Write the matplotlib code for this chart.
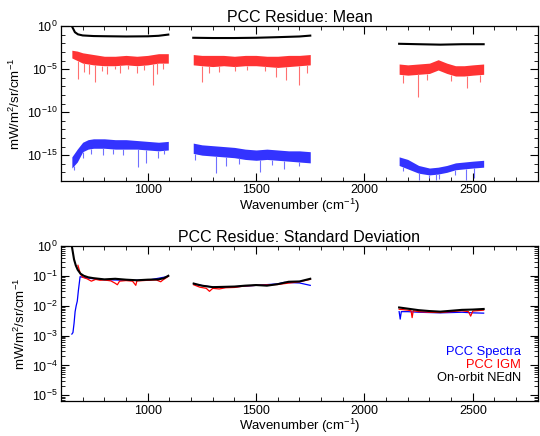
import numpy as np
import matplotlib
matplotlib.use("Agg")
import matplotlib.pyplot as plt

plt.rcParams['font.family'] = ['Liberation Sans', 'DejaVu Sans']
plt.rcParams['mathtext.fontset'] = 'custom'
plt.rcParams['mathtext.rm'] = 'Liberation Sans'
plt.rcParams['mathtext.it'] = 'Liberation Sans:italic'
plt.rcParams['mathtext.default'] = 'regular'

# ---- PCC residue mean (log10 values) ----
nedn_mean_x = [[645, 650, 664, 678, 700, 750, 800, 900, 1000, 1050, 1095],
               [1210, 1300, 1400, 1500, 1600, 1700, 1750],
               [2160, 2250, 2350, 2450, 2550]]
nedn_mean = [[0.3, 0.0, -0.7, -0.95, -1.08, -1.15, -1.17, -1.2, -1.18, -1.12, -0.98],
             [-1.35, -1.38, -1.38, -1.35, -1.28, -1.2, -1.1],
             [-2.05, -2.1, -2.15, -2.1, -2.1]]

band_x = [[650, 675, 700, 725, 750, 800, 850, 900, 950, 1000, 1050, 1095],
          [1210, 1250, 1300, 1350, 1400, 1450, 1500, 1550, 1600, 1650, 1700, 1750],
          [2160, 2200, 2250, 2300, 2340, 2380, 2420, 2460, 2500, 2550]]
igm_mean_hi = [[-2.8, -2.9, -3.1, -3.2, -3.3, -3.5, -3.5, -3.4, -3.5, -3.4, -3.2, -3.2],
               [-3.3, -3.4, -3.4, -3.4, -3.5, -3.4, -3.4, -3.5, -3.5, -3.4, -3.4, -3.3],
               [-4.4, -4.5, -4.4, -4.3, -3.9, -4.3, -4.6, -4.6, -4.5, -4.4]]
igm_mean_lo = [[-3.7, -4.0, -4.3, -4.4, -4.5, -4.6, -4.6, -4.5, -4.6, -4.5, -4.3, -4.3],
               [-4.5, -4.6, -4.7, -4.6, -4.7, -4.6, -4.6, -4.7, -4.8, -4.7, -4.6, -4.5],
               [-5.6, -5.7, -5.6, -5.5, -5.1, -5.5, -5.8, -5.8, -5.7, -5.6]]
spec_mean_hi = [[-15.2, -14.3, -13.5, -13.2, -13.1, -13.1, -13.2, -13.2, -13.3, -13.4, -13.5, -13.4],
                [-13.6, -13.8, -13.9, -14.0, -14.1, -14.3, -14.4, -14.3, -14.4, -14.5, -14.5, -14.6],
                [-15.2, -15.5, -16.2, -16.5, -16.4, -16.2, -15.9, -15.8, -15.7, -15.6]]
spec_mean_lo = [[-16.5, -15.8, -14.6, -14.3, -14.2, -14.2, -14.3, -14.3, -14.3, -14.4, -14.5, -14.4],
                [-14.8, -15.0, -15.1, -15.2, -15.3, -15.5, -15.6, -15.5, -15.6, -15.7, -15.8, -15.9],
                [-16.2, -16.6, -17.1, -17.3, -17.2, -17.0, -16.7, -16.6, -16.5, -16.4]]

igm_spike_x = [680, 705, 730, 757, 790, 812, 850, 870, 910, 950, 985, 1025, 1045, 1070,
               1249, 1285, 1327, 1405, 1460, 1543, 1590, 1636, 1696, 1737,
               2178, 2248, 2290, 2400, 2475, 2535]
igm_spike = [-6.2, -5.3, -5.6, -6.5, -5.2, -5.6, -5.0, -5.4, -5.0, -5.5, -5.1, -6.9, -5.6, -5.0,
             -6.5, -5.5, -5.3, -5.2, -5.1, -5.2, -5.9, -6.3, -6.8, -5.4,
             -6.6, -8.2, -6.3, -6.4, -7.2, -6.5]
spec_spike_x = [660, 700, 740, 793, 840, 885, 953, 990, 1046, 1074,
                1220, 1313, 1359, 1420, 1520, 1572, 1627, 1700,
                2180, 2250, 2300, 2330, 2345, 2420, 2470, 2505]
spec_spike = [-16.7, -15.3, -14.9, -15.0, -14.9, -15.0, -16.4, -15.9, -15.3, -14.9,
              -15.6, -17.1, -16.3, -16.0, -17.0, -16.2, -16.6, -16.3,
              -16.8, -17.9, -17.6, -17.9, -17.8, -17.3, -17.9, -17.6]

# ---- PCC residue standard deviation ----
nedn_std_x = [[645, 652, 660, 668, 677, 690, 705, 725, 750, 800, 850, 900, 950, 1000, 1050, 1075, 1095],
              [1212, 1250, 1300, 1350, 1400, 1450, 1500, 1550, 1600, 1650, 1700, 1750],
              [2160, 2200, 2250, 2300, 2350, 2400, 2450, 2500, 2550]]
nedn_std = [[0.2, -0.1, -0.45, -0.65, -0.8, -0.93, -1.0, -1.05, -1.08, -1.12, -1.1, -1.13, -1.15, -1.13, -1.12, -1.08, -1.0],
            [-1.26, -1.33, -1.38, -1.37, -1.36, -1.33, -1.31, -1.33, -1.28, -1.2, -1.19, -1.1],
            [-2.06, -2.1, -2.15, -2.18, -2.2, -2.17, -2.14, -2.13, -2.11]]
igm_std_x = [[678, 682, 690, 700, 720, 740, 760, 780, 800, 830, 850, 860, 870, 900, 930, 945, 950, 980, 1000, 1040, 1060, 1070, 1095],
             [1212, 1240, 1270, 1285, 1300, 1330, 1360, 1400, 1450, 1500, 1600, 1700, 1750],
             [2160, 2200, 2215, 2220, 2225, 2250, 2300, 2350, 2400, 2450, 2480, 2490, 2500, 2550]]
igm_std = [[-0.65, -0.75, -0.95, -1.05, -1.1, -1.18, -1.12, -1.15, -1.14, -1.17, -1.25, -1.3, -1.18, -1.16, -1.18, -1.32, -1.17, -1.16, -1.15, -1.14, -1.2, -1.14, -1.02],
           [-1.3, -1.38, -1.42, -1.52, -1.42, -1.44, -1.4, -1.39, -1.34, -1.32, -1.29, -1.2, -1.12],
           [-2.12, -2.15, -2.17, -2.4, -2.17, -2.2, -2.22, -2.23, -2.2, -2.17, -2.2, -2.35, -2.18, -2.15]]
spec_std_x = [[650, 655, 660, 665, 670, 675, 680, 688, 700, 750, 800, 900, 1000, 1095],
              [1212, 1300, 1400, 1500, 1600, 1630, 1700, 1750],
              [2160, 2165, 2170, 2200, 2250, 2300, 2350, 2400, 2450, 2500, 2550]]
spec_std = [[-2.95, -2.9, -2.6, -2.2, -2.0, -1.85, -1.5, -1.03, -1.05, -1.1, -1.13, -1.15, -1.15, -1.02],
            [-1.28, -1.38, -1.37, -1.32, -1.27, -1.22, -1.24, -1.32],
            [-2.2, -2.45, -2.2, -2.2, -2.22, -2.23, -2.24, -2.23, -2.22, -2.24, -2.25]]

legend_labels = ["PCC Spectra", "PCC IGM", "On-orbit NEdN"]
legend_colors = ["#0000ff", "#ff0000", "black"]


def style_axes(ax):
    ax.set_xlim(600, 2800)
    ax.set_xticks([1000, 1500, 2000, 2500])
    ax.set_xticks(np.arange(600, 2801, 100), minor=True)
    ax.tick_params(which='both', direction='in', top=True, right=True, labelsize=9, pad=2.5)
    ax.tick_params(which='major', length=6, width=0.8)
    ax.tick_params(which='minor', length=3, width=0.6)
    ax.set_xlabel("Wavenumber (cm$^{-1}$)", fontsize=9.5, labelpad=0)
    ax.set_ylabel("mW/m$^2$/sr/cm$^{-1}$", fontsize=9.5, labelpad=3)
    for s in ax.spines.values():
        s.set_linewidth(0.9)


fig = plt.figure(figsize=(5.4, 4.36), dpi=100)
ax1 = fig.add_axes([0.113, 0.585, 0.883, 0.355])
ax2 = fig.add_axes([0.113, 0.08, 0.883, 0.356])

# top: mean
for i in range(3):
    x = band_x[i]
    ax1.fill_between(x, 10.0 ** np.array(igm_mean_lo[i]), 10.0 ** np.array(igm_mean_hi[i]),
                     color="#ff0000", alpha=0.8, lw=0)
    ax1.fill_between(x, 10.0 ** np.array(spec_mean_lo[i]), 10.0 ** np.array(spec_mean_hi[i]),
                     color="#0000ff", alpha=0.8, lw=0)
    ax1.plot(nedn_mean_x[i], 10.0 ** np.array(nedn_mean[i]), color="black", lw=1.5)

all_x = sum(band_x, [])
igm_base = np.interp(igm_spike_x, all_x, sum(igm_mean_lo, []))
spec_base = np.interp(spec_spike_x, all_x, sum(spec_mean_lo, []))
ax1.vlines(igm_spike_x, 10.0 ** np.array(igm_spike), 10.0 ** igm_base, color="#ff7070", lw=0.8)
ax1.vlines(spec_spike_x, 10.0 ** np.array(spec_spike), 10.0 ** spec_base, color="#7070ff", lw=0.8)

ax1.set_yscale('log')
ax1.set_ylim(1e-18, 1)
ax1.set_yticks([1, 1e-5, 1e-10, 1e-15])
ax1.set_yticks(10.0 ** np.arange(-18, 1), minor=True)
ax1.yaxis.set_minor_formatter(plt.NullFormatter())
style_axes(ax1)
ax1.set_title("PCC Residue: Mean", fontsize=11.5, pad=3)

# bottom: standard deviation
for i in range(3):
    ax2.plot(spec_std_x[i], 10.0 ** np.array(spec_std[i]), color="#0000ff", lw=0.9)
    ax2.plot(igm_std_x[i], 10.0 ** np.array(igm_std[i]), color="#ff0000", lw=0.9)
    ax2.plot(nedn_std_x[i], 10.0 ** np.array(nedn_std[i]), color="black", lw=1.5)

ax2.set_yscale('log')
ax2.set_ylim(6.4e-6, 1)
ax2.set_yticks(10.0 ** np.arange(-5, 1))
style_axes(ax2)
ax2.set_title("PCC Residue: Standard Deviation", fontsize=11.5, pad=3)

for k, (lab, col) in enumerate(zip(legend_labels, legend_colors)):
    ax2.text(0.965, 0.315 - k * 0.084, lab, color=col, fontsize=9.3,
             ha='right', va='center', transform=ax2.transAxes)

fig.savefig("out.png", dpi=100)
